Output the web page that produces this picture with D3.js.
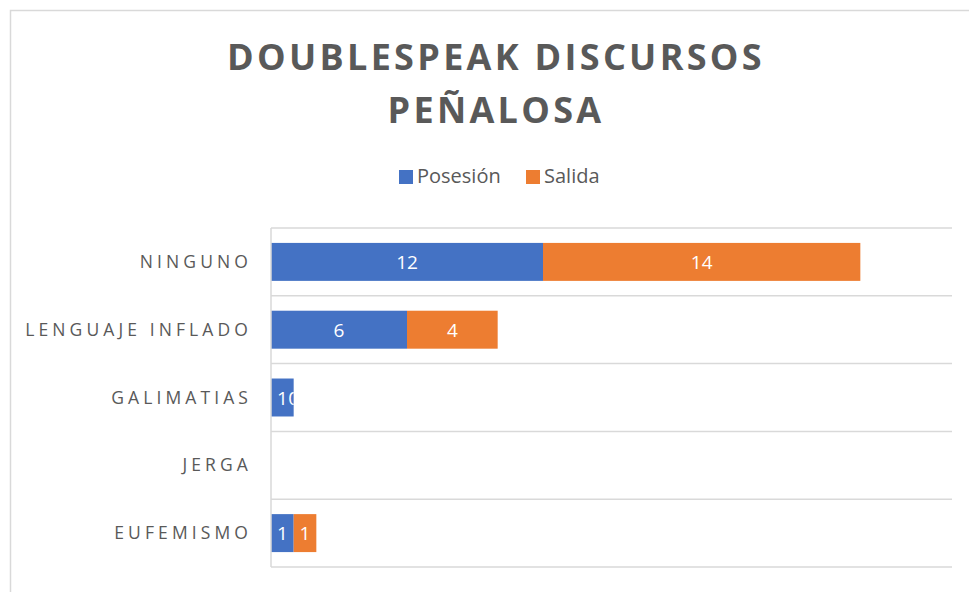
<!DOCTYPE html>
<html>
<head>
<meta charset="utf-8">
<script src="https://cdn.jsdelivr.net/npm/d3@7"></script>
<style>
  body { margin: 0; background: #fff; }
  svg { display: block; }
</style>
</head>
<body>
<script>
// data
var categories = ["NINGUNO", "LENGUAJE INFLADO", "GALIMATIAS", "JERGA", "EUFEMISMO"];
var posesion = [12, 6, 1, 0, 1];
var salida = [14, 4, 0, 0, 1];
var seriesNames = ["Posesión", "Salida"];
var colors = ["#4472C4", "#ED7D31"];

var W = 969, H = 592;
var svg = d3.select("body").append("svg").attr("width", W).attr("height", H);

// chart frame (cut off on right/bottom like the picture)
svg.append("rect").attr("x", 10.5).attr("y", 10.5)
  .attr("width", 1000).attr("height", 1000)
  .attr("fill", "none").attr("stroke", "#d9d9d9").attr("stroke-width", 1.5);

// title
var title = svg.append("text")
  .attr("text-anchor", "middle")
  .style("font-family", "'Open Sans', sans-serif")
  .style("font-weight", "bold")
  .style("font-size", "36px")
  .style("letter-spacing", "3.3px")
  .attr("fill", "#595959");
title.append("tspan").attr("x", 496).attr("y", 70).text("DOUBLESPEAK DISCURSOS");
title.append("tspan").attr("x", 496).attr("y", 123).text("PEÑALOSA");

// legend
var legendX = [399, 526];
var lg = svg.append("g").selectAll("g").data(seriesNames).enter().append("g")
  .attr("transform", function(d, i) { return "translate(" + legendX[i] + ",170)"; });
lg.append("rect").attr("width", 14).attr("height", 14)
  .attr("fill", function(d, i) { return colors[i]; });
lg.append("text").attr("x", 18).attr("y", 13)
  .style("font-family", "'Open Sans', sans-serif").style("font-size", "20px")
  .attr("fill", "#595959").text(function(d) { return d; });

// scales
var x = d3.scaleLinear().domain([0, 30]).range([271, 951]);
var y = d3.scaleBand().domain(categories).range([228, 567]).paddingInner(0.44).paddingOuter(0.22);
var band = d3.scaleBand().domain(categories).range([228, 567]);

// category gridlines
svg.append("g").selectAll("line").data(categories.concat(["end"])).enter().append("line")
  .attr("x1", 271).attr("x2", 952)
  .attr("y1", function(d, i) { return i < categories.length ? band(d) : 567; })
  .attr("y2", function(d, i) { return i < categories.length ? band(d) : 567; })
  .attr("stroke", "#d9d9d9").attr("stroke-width", 1.5);

// stacked data
var rows = categories.map(function(c, i) { return { cat: c, "Posesión": posesion[i], "Salida": salida[i] }; });
var stack = d3.stack().keys(seriesNames)(rows);

// clip per category, to stack total extent
var defs = svg.append("defs");
rows.forEach(function(r, i) {
  defs.append("clipPath").attr("id", "clip" + i).append("rect")
    .attr("x", x(0)).attr("y", y(r.cat))
    .attr("width", x(r["Posesión"] + r["Salida"]) - x(0))
    .attr("height", y.bandwidth());
});

var layers = svg.append("g").selectAll("g").data(stack).enter().append("g")
  .attr("fill", function(d, i) { return colors[i]; });

layers.selectAll("rect").data(function(d) { return d; }).enter().append("rect")
  .attr("x", function(d) { return x(d[0]); })
  .attr("y", function(d) { return y(d.data.cat); })
  .attr("width", function(d) { return x(d[1]) - x(d[0]); })
  .attr("height", y.bandwidth());

// data labels
layers.each(function(layer) {
  d3.select(this.parentNode).append("g").selectAll("text").data(layer).enter().append("text")
    .attr("clip-path", function(d) { return "url(#clip" + categories.indexOf(d.data.cat) + ")"; })
    .attr("x", function(d) { return (x(d[0]) + x(d[1])) / 2; })
    .attr("y", function(d) { return y(d.data.cat) + y.bandwidth() / 2 + 7; })
    .attr("text-anchor", "middle")
    .style("font-family", "'Open Sans', sans-serif").style("font-size", "19px")
    .attr("fill", "#fff")
    .text(function(d) { return d.data[layer.key]; });
});

// category axis line
svg.append("line").attr("x1", 271).attr("x2", 271).attr("y1", 228).attr("y2", 567)
  .attr("stroke", "#d9d9d9").attr("stroke-width", 1.5);

// category labels
svg.append("g").selectAll("text").data(categories).enter().append("text")
  .attr("x", 252)
  .attr("y", function(d) { return y(d) + y.bandwidth() / 2 + 6; })
  .attr("text-anchor", "end")
  .style("font-family", "'Open Sans', sans-serif").style("font-size", "17.5px")
  .style("letter-spacing", "4.1px")
  .attr("fill", "#595959")
  .text(function(d) { return d; });
</script>
</body>
</html>
